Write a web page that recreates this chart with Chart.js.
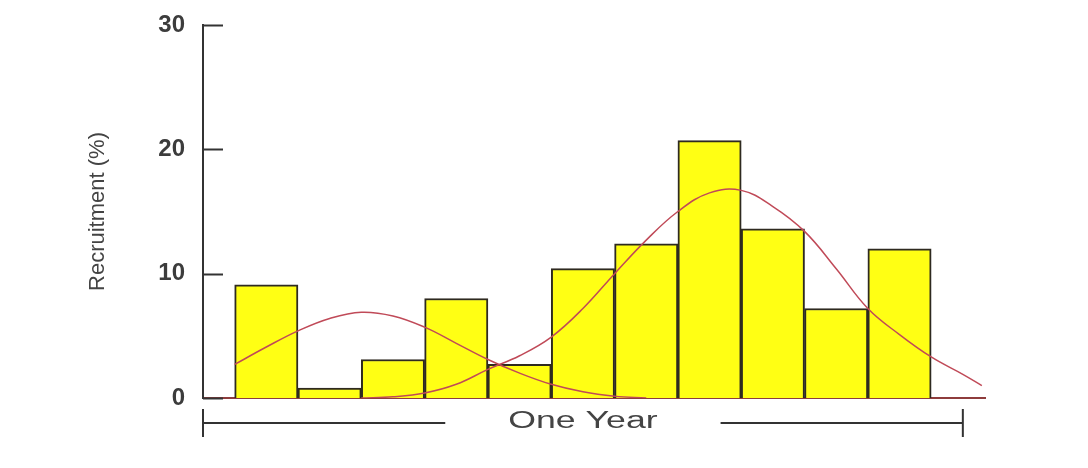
<!DOCTYPE html>
<html>
<head>
<meta charset="utf-8">
<script src="https://cdn.jsdelivr.net/npm/chart.js@4.4.1/dist/chart.umd.min.js"></script>
<style>
    html, body { margin: 0; padding: 0; background: #ffffff; }
    #wrap { width: 1088px; height: 468px; position: relative; }
</style>
</head>
<body>
<div id="wrap"><canvas id="recruitChart"></canvas></div>
<script>
// Monthly recruitment histogram (bar centre = month) with two fitted curves
const months = [1, 2, 3, 4, 5, 6, 7, 8, 9, 10, 11];
const recruitment = [9.1, 0.8, 3.1, 8.0, 2.7, 10.4, 12.4, 20.7, 13.6, 7.2, 12.0];

const earlyCurveX = [0.5, 1.0, 1.5, 2.0, 2.5, 3.0, 3.5, 4.0, 4.5, 5.0, 5.5, 6.0, 6.5, 7.0];
const earlyCurveY = [2.7, 4.1, 5.4, 6.4, 6.9, 6.6, 5.7, 4.4, 3.1, 2.0, 1.1, 0.5, 0.15, 0];

const lateCurveX = [2.5, 3.0, 3.5, 4.0, 4.5, 5.0, 5.5, 6.0, 6.5, 7.0, 7.5, 8.0, 8.5, 9.0, 9.5, 10.0, 10.5, 11.0, 11.5, 12.0, 12.3];
const lateCurveY = [0, 0.1, 0.4, 1.1, 2.3, 3.4, 4.9, 7.2, 10.0, 12.7, 15.0, 16.5, 16.7, 15.4, 13.4, 10.4, 7.2, 5.1, 3.3, 1.9, 1.0];

const yTicks = [0, 10, 20, 30];
const periodLabel = 'One Year';
const yTitle = 'Recruitment (%)';

const toPoints = (xs, ys) => xs.map((x, i) => ({ x: x, y: ys[i] }));

// inner tick marks on the y axis + the "One Year" bracket under the x axis
const extrasPlugin = {
    id: 'extras',
    afterDraw(chart) {
        const ctx = chart.ctx;
        const yScale = chart.scales.y;
        const xScale = chart.scales.x;
        const left = chart.chartArea.left;

        ctx.save();
        ctx.strokeStyle = '#333333';
        ctx.lineWidth = 2;
        yScale.ticks.forEach(t => {
            const py = Math.round(yScale.getPixelForValue(t.value)) + 0.5;
            ctx.beginPath();
            ctx.moveTo(left, py);
            ctx.lineTo(left + 20, py);
            ctx.stroke();
        });

        // bracket spanning month 0 to 12
        const x0 = xScale.getPixelForValue(0);
        const x1 = xScale.getPixelForValue(12);
        const xm = xScale.getPixelForValue(6);
        const by = chart.chartArea.bottom + 25;

        ctx.font = '23px "Liberation Sans", Arial, sans-serif';
        const stretch = 1.55;
        const tw = ctx.measureText(periodLabel).width * stretch;
        const gap = 63;

        ctx.beginPath();
        ctx.moveTo(x0, by);
        ctx.lineTo(xm - tw / 2 - gap, by);
        ctx.moveTo(xm + tw / 2 + gap, by);
        ctx.lineTo(x1, by);
        ctx.moveTo(x0, by - 14);
        ctx.lineTo(x0, by + 14);
        ctx.moveTo(x1, by - 14);
        ctx.lineTo(x1, by + 14);
        ctx.stroke();

        ctx.fillStyle = '#444444';
        ctx.textAlign = 'center';
        ctx.textBaseline = 'middle';
        ctx.translate(xm, by - 1);
        ctx.scale(stretch, 1);
        ctx.fillText(periodLabel, 0, 0);
        ctx.restore();
    }
};

new Chart(document.getElementById('recruitChart'), {
    type: 'bar',
    data: {
        datasets: [
            {
                type: 'line',
                data: toPoints(earlyCurveX, earlyCurveY),
                borderColor: '#c04a58',
                borderWidth: 1.5,
                pointRadius: 0,
                tension: 0.4,
                fill: false,
                order: 1
            },
            {
                type: 'line',
                data: toPoints(lateCurveX, lateCurveY),
                borderColor: '#c04a58',
                borderWidth: 1.5,
                pointRadius: 0,
                tension: 0.4,
                fill: false,
                order: 1
            },
            {
                type: 'bar',
                data: toPoints(months, recruitment),
                backgroundColor: '#ffff14',
                borderColor: '#2e2a20',
                borderWidth: 2,
                barPercentage: 1,
                categoryPercentage: 1,
                order: 2
            }
        ]
    },
    options: {
        responsive: true,
        maintainAspectRatio: false,
        animation: false,
        layout: {
            padding: { left: 0, right: 103, top: 25, bottom: 70 }
        },
        plugins: {
            legend: { display: false },
            tooltip: { enabled: false }
        },
        scales: {
            x: {
                type: 'linear',
                offset: false,
                min: 0,
                max: 12.35,
                grid: { display: false, drawTicks: false },
                border: { color: '#8e3c3c', width: 2 },
                ticks: { display: false, stepSize: 1, includeBounds: false }
            },
            y: {
                min: 0,
                max: 30,
                afterBuildTicks: scale => {
                    scale.ticks = yTicks.map(v => ({ value: v }));
                },
                afterFit: scale => {
                    scale.width = 203;
                    scale.paddingTop = 0;
                    scale.paddingBottom = 0;
                },
                grid: { display: false, drawTicks: false },
                border: { color: '#333333', width: 2 },
                ticks: {
                    padding: 18,
                    color: '#3c3c3c',
                    font: { family: '"Liberation Sans", Arial, sans-serif', size: 24, weight: 'bold' }
                },
                title: {
                    display: true,
                    text: yTitle,
                    color: '#444444',
                    padding: { top: 85 },
                    font: { family: '"Liberation Sans", Arial, sans-serif', size: 22 }
                }
            }
        }
    },
    plugins: [extrasPlugin]
});
</script>
</body>
</html>
